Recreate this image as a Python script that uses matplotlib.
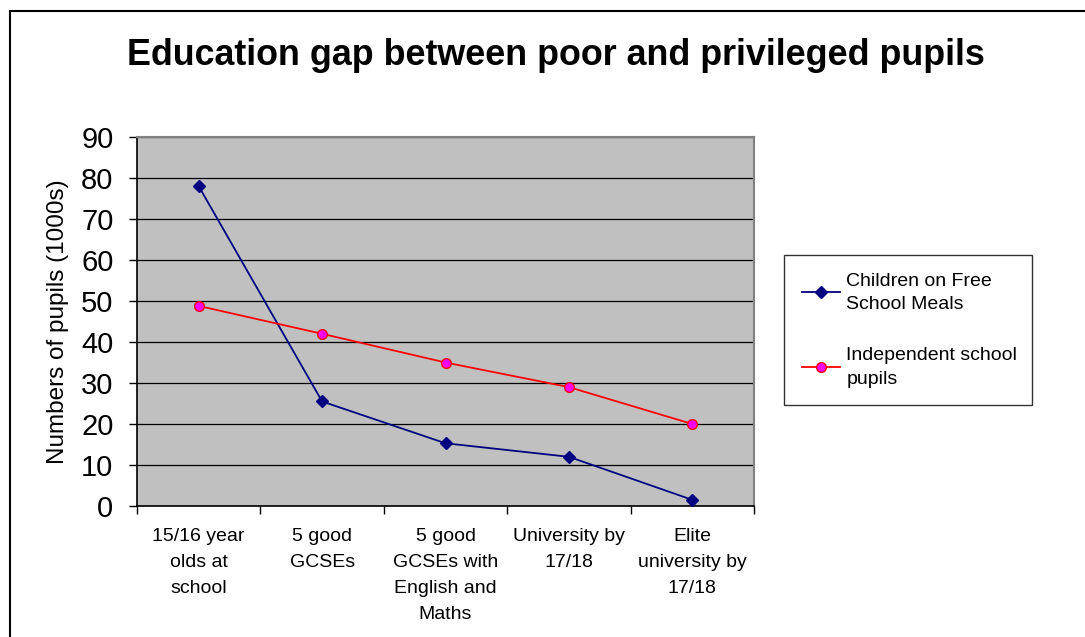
import matplotlib.pyplot as plt
from matplotlib.patches import Rectangle
import numpy as np

plt.rcParams['font.family'] = ['Liberation Sans', 'DejaVu Sans']

CATEGORIES = ["15/16 year\nolds at\nschool", "5 good\nGCSEs",
              "5 good\nGCSEs with\nEnglish and\nMaths", "University by\n17/18",
              "Elite\nuniversity by\n17/18"]
FSM = [78, 25.5, 15.3, 12, 1.5]
INDEPENDENT = [48.8, 42, 35, 29, 20]
YTICKS = list(range(0, 91, 10))

W, H = 1085, 637
fig = plt.figure(figsize=(W / 100, H / 100), dpi=100)
fig.patch.set_facecolor("white")

# outer chart frame (runs off the right/bottom edge like the screenshot)
fig.patches.append(Rectangle((10 / W, -0.05), 1.1, 1 - 11 / H + 0.05,
                             transform=fig.transFigure, fill=False,
                             edgecolor="black", linewidth=1.5))

ax = fig.add_axes([137 / W, 1 - 506 / H, (754 - 137) / W, (506 - 137) / H])
ax.set_facecolor("#C0C0C0")
x = np.arange(len(CATEGORIES))

ax.plot(x, FSM, color="#000080", linewidth=1.3, marker="D", markersize=6,
        markerfacecolor="#000080", markeredgecolor="#000080",
        label="Children on Free\nSchool Meals", zorder=3)
ax.plot(x, INDEPENDENT, color="#FF0000", linewidth=1.3, marker="o", markersize=7,
        markerfacecolor="#FF00FF", markeredgecolor="#FF0000",
        label="Independent school\npupils", zorder=3)

ax.set_xlim(-0.5, len(CATEGORIES) - 0.5)
ax.set_ylim(0, 90)
ax.set_yticks(YTICKS)
ax.tick_params(axis="y", labelsize=21, length=6, width=1, direction="out", pad=11)
ax.yaxis.grid(True, color="black", linewidth=0.9)
ax.set_axisbelow(True)

ax.set_xticks(np.arange(len(CATEGORIES) + 1) - 0.5)
ax.set_xticklabels([])
ax.set_xticks(x, minor=True)
ax.set_xticklabels(CATEGORIES, minor=True, fontsize=14, linespacing=1.68, va="top")
ax.tick_params(axis="x", which="major", length=6, width=1, direction="out")
ax.tick_params(axis="x", which="minor", length=0, pad=16)

for s in ["left", "bottom"]:
    ax.spines[s].set_color("black")
    ax.spines[s].set_linewidth(1.2)
for s in ["top", "right"]:
    ax.spines[s].set_color("#808080")
    ax.spines[s].set_linewidth(1.5)

ax.set_ylabel("Numbers of pupils (1000s)", fontsize=17.5, labelpad=9)

fig.text(127 / W, 1 - 65 / H, "Education gap between poor and privileged pupils",
         ha="left", va="baseline", fontsize=25.8, fontweight="bold")

leg = ax.legend(loc="upper left", bbox_to_anchor=(784 / W, 1 - 407 / H, 248 / W, 152 / H),
                bbox_transform=fig.transFigure, mode="expand", frameon=True,
                fancybox=False, edgecolor="black", fontsize=14, handlelength=2.0,
                labelspacing=1.75, borderpad=0.9, handletextpad=0.3, borderaxespad=0)
leg.get_frame().set_linewidth(1.0)
for t in leg.get_texts():
    t.set_linespacing(1.5)

fig.savefig("out.png", dpi=100)
